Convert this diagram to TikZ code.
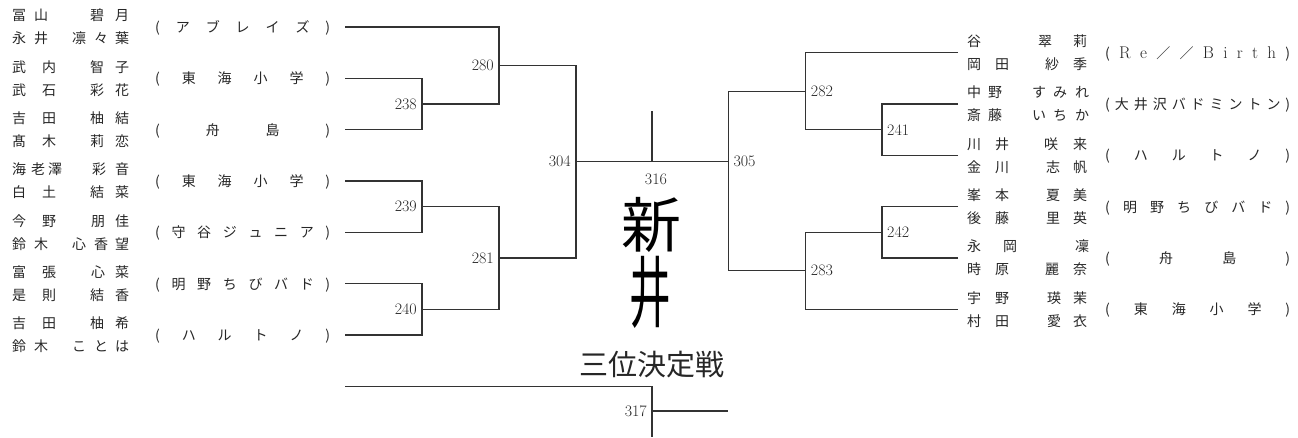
\documentclass[tikz,border=0pt]{standalone}
\usepackage{fontspec}
\newfontfamily\jp{Noto Sans CJK JP}
\usetikzlibrary{positioning}
% one name line: characters at fixed offsets
\newcommand{\spread}[1]{\foreach \ch/\dx in {#1}{\makebox[0pt][l]{\hspace*{\dx pt}\ch}}\hspace*{121pt}}
% club name spread over a fixed width
\newcommand{\dist}[2]{\makebox[#1pt][s]{{(}\foreach \ch in {#2}{\hfill\ch}\hfill{)}}}
% latin letter in a club name
\newcommand{\lt}[1]{{\rmfamily\fontsize{17}{17}\selectfont #1}}
\tikzset{
  nm/.style={anchor=west,inner sep=0pt,text=black!85,font=\jp\fontsize{14}{14}\selectfont,text height=12.3pt,text depth=1.7pt},
  club/.style={nm},
  num/.style={inner sep=0pt,text=black!85,font=\fontsize{16}{16}\selectfont},
  line/.style={draw=black!80,line width=1.3pt}
}
\begin{document}
\begin{tikzpicture}[x=1pt,y=-1pt]
    \useasboundingbox (0,0) rectangle (1298,437);
    %left pairs
    \node[nm] (l1a) at (12,15.5) {\spread{冨/0,山/22,碧/78,月/103}};
    \node[nm] (l1b) at (12,38.5) {\spread{永/0,井/22,凛/60,々/82,葉/103}};
    \node[nm] (l2a) at (12,66.8) {\spread{武/0,内/30,智/78,子/103}};
    \node[nm] (l2b) at (12,89.8) {\spread{武/0,石/30,彩/78,花/103}};
    \node[nm] (l3a) at (12,118.2) {\spread{吉/0,田/30,柚/78,結/103}};
    \node[nm] (l3b) at (12,141.2) {\spread{髙/0,木/30,莉/78,恋/103}};
    \node[nm] (l4a) at (12,169.5) {\spread{海/0,老/19,澤/36,彩/80,音/103}};
    \node[nm] (l4b) at (12,192.5) {\spread{白/0,土/30,結/78,菜/103}};
    \node[nm] (l5a) at (12,220.8) {\spread{今/0,野/30,朋/79,佳/103}};
    \node[nm] (l5b) at (12,243.8) {\spread{鈴/0,木/22,心/60,香/82,望/103}};
    \node[nm] (l6a) at (12,272.2) {\spread{富/0,張/30,心/79,菜/103}};
    \node[nm] (l6b) at (12,295.2) {\spread{是/0,則/30,結/78,香/103}};
    \node[nm] (l7a) at (12,323.5) {\spread{吉/0,田/30,柚/78,希/103}};
    \node[nm] (l7b) at (12,346.5) {\spread{鈴/0,木/22,こ/60,と/82,は/103}};
    %left clubs
    \node[club] (c1) at (155,27) {\dist{175}{ア,ブ,レ,イ,ズ}};
    \node[club] (c2) at (155,78.3) {\dist{175}{東,海,小,学}};
    \node[club] (c3) at (155,129.7) {\dist{175}{舟,島}};
    \node[club] (c4) at (155,181) {\dist{175}{東,海,小,学}};
    \node[club] (c5) at (155,232.3) {\dist{175}{守,谷,ジ,ュ,ニ,ア}};
    \node[club] (c6) at (155,283.7) {\dist{175}{明,野,ち,び,バ,ド}};
    \node[club] (c7) at (155,335) {\dist{175}{ハ,ル,ト,ノ}};
    %right pairs
    \node[nm] (r1a) at (967,41.2) {\spread{谷/0,翠/71,莉/106}};
    \node[nm] (r1b) at (967,64.2) {\spread{岡/0,田/28,紗/78,季/106}};
    \node[nm] (r2a) at (967,92.5) {\spread{中/0,野/21,す/65,み/86,れ/108}};
    \node[nm] (r2b) at (967,115.5) {\spread{斎/0,藤/21,い/65,ち/86,か/108}};
    \node[nm] (r3a) at (967,143.8) {\spread{川/0,井/28,咲/77,来/106}};
    \node[nm] (r3b) at (967,166.8) {\spread{金/0,川/28,志/79,帆/106}};
    \node[nm] (r4a) at (967,195.2) {\spread{峯/0,本/28,夏/79,美/106}};
    \node[nm] (r4b) at (967,218.2) {\spread{後/0,藤/28,里/79,英/106}};
    \node[nm] (r5a) at (967,246.5) {\spread{永/0,岡/36,凜/108}};
    \node[nm] (r5b) at (967,269.5) {\spread{時/0,原/28,麗/78,奈/106}};
    \node[nm] (r6a) at (967,297.8) {\spread{宇/0,野/28,瑛/80,茉/106}};
    \node[nm] (r6b) at (967,320.8) {\spread{村/0,田/28,愛/80,衣/106}};
    %right clubs
    \node[club] (d1) at (1105,52.7) {\dist{185}{\lt{R},\lt{e},／,／,\lt{B},\lt{i},\lt{r},\lt{t},\lt{h}}};
    \node[club] (d2) at (1105,104) {\dist{185}{大,井,沢,バ,ド,ミ,ン,ト,ン}};
    \node[club] (d3) at (1105,155.3) {\dist{185}{ハ,ル,ト,ノ}};
    \node[club] (d4) at (1105,206.7) {\dist{185}{明,野,ち,び,バ,ド}};
    \node[club] (d5) at (1105,258) {\dist{185}{舟,島}};
    \node[club] (d6) at (1105,309.3) {\dist{185}{東,海,小,学}};
    %line ends
    \coordinate (L1) at (345,27);
    \coordinate (L2) at (345,78.3);
    \coordinate (L3) at (345,129.7);
    \coordinate (L4) at (345,181);
    \coordinate (L5) at (345,232.3);
    \coordinate (L6) at (345,283.7);
    \coordinate (L7) at (345,335);
    \coordinate (R1) at (958,52.7);
    \coordinate (R2) at (958,104);
    \coordinate (R3) at (958,155.3);
    \coordinate (R4) at (958,206.7);
    \coordinate (R5) at (958,258);
    \coordinate (R6) at (958,309.3);
    %matches
    \coordinate (j238) at (422,104);
    \coordinate (j239) at (422,206.7);
    \coordinate (j240) at (422,309.3);
    \coordinate (j280) at (499,65.5);
    \coordinate (j281) at (499,258);
    \coordinate (j304) at (576,161.7);
    \coordinate (j316) at (652,161.7);
    \coordinate (top316) at (652,110.7);
    \coordinate (j305) at (728.3,161.7);
    \coordinate (j282) at (805.7,91.2);
    \coordinate (j283) at (805.7,270.8);
    \coordinate (j241) at (882,129.7);
    \coordinate (j242) at (882,232.3);
    %left bracket
    \draw[line] (L2) -| (j238);
    \draw[line] (L3) -| (j238);
    \draw[line] (L4) -| (j239);
    \draw[line] (L5) -| (j239);
    \draw[line] (L6) -| (j240);
    \draw[line] (L7) -| (j240);
    \draw[line] (L1) -| (j280);
    \draw[line] (j238) -| (j280);
    \draw[line] (j239) -| (j281);
    \draw[line] (j240) -| (j281);
    \draw[line] (j280) -| (j304);
    \draw[line] (j281) -| (j304);
    %final
    \draw[line] (j304) -- (j305);
    \draw[line] (j316) -- (top316);
    %right bracket
    \draw[line] (R2) -| (j241);
    \draw[line] (R3) -| (j241);
    \draw[line] (R4) -| (j242);
    \draw[line] (R5) -| (j242);
    \draw[line] (R1) -| (j282);
    \draw[line] (j241) -| (j282);
    \draw[line] (R6) -| (j283);
    \draw[line] (j242) -| (j283);
    \draw[line] (j282) -| (j305);
    \draw[line] (j283) -| (j305);
    %numbers
    \node[num,left=5pt of j238] (n238) {238};
    \node[num,left=5pt of j239] (n239) {239};
    \node[num,left=5pt of j240] (n240) {240};
    \node[num,left=5pt of j280] (n280) {280};
    \node[num,left=5pt of j281] (n281) {281};
    \node[num,left=5pt of j304] (n304) {304};
    \node[num,below=12pt of j316,xshift=4pt] (n316) {316};
    \node[num,right=5pt of j305] (n305) {305};
    \node[num,right=5pt of j282] (n282) {282};
    \node[num,right=5pt of j283] (n283) {283};
    \node[num,right=5pt of j241] (n241) {241};
    \node[num,right=5pt of j242] (n242) {242};
    %signature
    \node[inner sep=0pt] (sig1) at (651,225) {\jp\fontsize{60}{60}\selectfont 新};
    \node[inner sep=0pt] (sig2) at (650,292) {\scalebox{0.8}[1.5]{\jp\fontsize{52}{52}\selectfont 井}};
    %third place
    \node[inner sep=0pt,text=black!85,font=\jp\fontsize{29}{29}\selectfont] (ttl) at (652,365) {三位決定戦};
    \coordinate (T1) at (345,386.7);
    \coordinate (j317) at (652,411);
    \coordinate (T2) at (652,437);
    \coordinate (T3) at (728,411);
    \draw[line] (T1) -| (j317) -- (T2);
    \draw[line] (j317) -- (T3);
    \node[num,left=5pt of j317] (n317) {317};
\end{tikzpicture}
\end{document}
